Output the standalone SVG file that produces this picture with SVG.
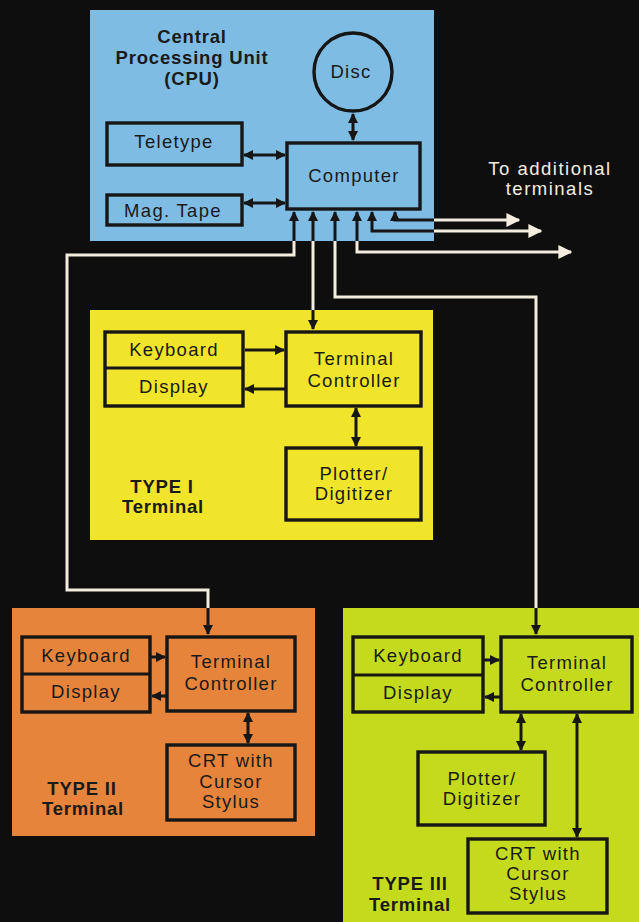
<svg xmlns="http://www.w3.org/2000/svg" width="639" height="922" viewBox="0 0 639 922">
<style>
.bx{fill:none;stroke:#161616;stroke-width:3.4}
.t{font-family:"Liberation Sans",Arial,sans-serif;font-size:18.5px;fill:#1a1a1a;text-anchor:middle;letter-spacing:1.3px}
.tb{font-family:"Liberation Sans",Arial,sans-serif;font-size:18.5px;font-weight:bold;fill:#1a1a1a;text-anchor:middle;letter-spacing:0.8px}
.tw{font-family:"Liberation Sans",Arial,sans-serif;font-size:18.5px;fill:#f3ede0;text-anchor:middle;letter-spacing:1.5px}
.ln{fill:none;stroke:#161616;stroke-width:3}
.wl{fill:none;stroke:#f3ede0;stroke-width:3}
</style>
<defs>
<marker id="ab" viewBox="0 0 10 10" refX="9" refY="5" markerWidth="10" markerHeight="10" markerUnits="userSpaceOnUse" orient="auto-start-reverse"><path d="M0,0 L10,5 L0,10 z" fill="#161616"/></marker>
<marker id="aw" viewBox="0 0 10 10" refX="9" refY="5" markerWidth="14" markerHeight="15" markerUnits="userSpaceOnUse" orient="auto-start-reverse"><path d="M0,0 L10,5 L0,10 z" fill="#f3ede0"/></marker>
</defs>
<rect x="0" y="0" width="639" height="922" fill="#0e0e0e"/>

<g id="cpu">
<rect x="90" y="10" width="344" height="231" fill="#7fbce4"/>
<text class="tb" x="192" y="43">Central</text>
<text class="tb" x="192" y="64">Processing Unit</text>
<text class="tb" x="192" y="85">(CPU)</text>
</g>
<g id="disc">
<circle class="bx" cx="353" cy="72" r="39"/>
<text class="t" x="351" y="78">Disc</text>
</g>
<g id="teletype">
<rect class="bx" x="107" y="123" width="135" height="42"/>
<text class="t" x="174" y="148">Teletype</text>
</g>
<g id="magtape">
<rect class="bx" x="107" y="195" width="135" height="30"/>
<text class="t" x="173" y="217">Mag. Tape</text>
</g>
<g id="computer">
<rect class="bx" x="287" y="143" width="133" height="66"/>
<text class="t" x="354" y="182">Computer</text>
</g>
<g id="additional">
<text class="tw" x="550" y="175">To additional</text>
<text class="tw" x="550" y="195">terminals</text>
</g>

<g id="type1">
<rect x="90" y="310" width="343" height="230" fill="#f0e52a"/>
<text class="tb" x="162" y="493">TYPE I</text>
<text class="tb" x="163" y="513">Terminal</text>
</g>
<g id="t1-kbd">
<rect class="bx" x="105" y="332" width="138" height="74"/>
<line class="ln" x1="105" y1="368" x2="243" y2="368"/>
<text class="t" x="174" y="356">Keyboard</text>
<text class="t" x="174" y="393">Display</text>
</g>
<g id="t1-ctrl">
<rect class="bx" x="286" y="332" width="135" height="74"/>
<text class="t" x="354" y="365">Terminal</text>
<text class="t" x="354" y="387">Controller</text>
</g>
<g id="t1-plot">
<rect class="bx" x="286" y="448" width="135" height="72"/>
<text class="t" x="354" y="480">Plotter/</text>
<text class="t" x="354" y="500">Digitizer</text>
</g>

<g id="type2">
<rect x="12" y="608" width="303" height="228" fill="#e5843a"/>
<text class="tb" x="82" y="795">TYPE II</text>
<text class="tb" x="83" y="815">Terminal</text>
</g>
<g id="t2-kbd">
<rect class="bx" x="22" y="637" width="128" height="75"/>
<line class="ln" x1="22" y1="674" x2="150" y2="674"/>
<text class="t" x="86" y="662">Keyboard</text>
<text class="t" x="86" y="698">Display</text>
</g>
<g id="t2-ctrl">
<rect class="bx" x="167" y="637" width="128" height="74"/>
<text class="t" x="231" y="668">Terminal</text>
<text class="t" x="231" y="690">Controller</text>
</g>
<g id="t2-crt">
<rect class="bx" x="167" y="745" width="128" height="75"/>
<text class="t" x="231" y="767">CRT with</text>
<text class="t" x="231" y="788">Cursor</text>
<text class="t" x="231" y="808">Stylus</text>
</g>

<g id="type3">
<rect x="343" y="608" width="296" height="314" fill="#c4da1c"/>
<text class="tb" x="410" y="890">TYPE III</text>
<text class="tb" x="410" y="911">Terminal</text>
</g>
<g id="t3-kbd">
<rect class="bx" x="353" y="637" width="130" height="75"/>
<line class="ln" x1="353" y1="675" x2="483" y2="675"/>
<text class="t" x="418" y="662">Keyboard</text>
<text class="t" x="418" y="699">Display</text>
</g>
<g id="t3-ctrl">
<rect class="bx" x="501" y="637" width="131" height="75"/>
<text class="t" x="567" y="669">Terminal</text>
<text class="t" x="567" y="691">Controller</text>
</g>
<g id="t3-plot">
<rect class="bx" x="418" y="752" width="127" height="73"/>
<text class="t" x="482" y="785">Plotter/</text>
<text class="t" x="482" y="805">Digitizer</text>
</g>
<g id="t3-crt">
<rect class="bx" x="468" y="839" width="139" height="74"/>
<text class="t" x="538" y="860">CRT with</text>
<text class="t" x="538" y="880">Cursor</text>
<text class="t" x="538" y="900">Stylus</text>
</g>

<g id="connectors">
<g id="bus-white">
<path class="wl" d="M294,241 V255 H67 V590 H208 V608"/>
<path class="wl" d="M313,241 V310"/>
<path class="wl" d="M335,241 V297 H536 V608"/>
<path class="wl" d="M357,241 V252 H571" marker-end="url(#aw)"/>
<path class="wl" d="M434,231 H541" marker-end="url(#aw)"/>
<path class="wl" d="M434,220 H519" marker-end="url(#aw)"/>
</g>
<g id="bus-black">
<path class="ln" d="M294,212 V241" marker-start="url(#ab)"/>
<path class="ln" d="M208,608 V634" marker-end="url(#ab)"/>
<path class="ln" d="M313,212 V241" marker-start="url(#ab)"/>
<path class="ln" d="M313,310 V329" marker-end="url(#ab)"/>
<path class="ln" d="M335,212 V241" marker-start="url(#ab)"/>
<path class="ln" d="M536,608 V634" marker-end="url(#ab)"/>
<path class="ln" d="M357,212 V241" marker-start="url(#ab)"/>
<path class="ln" d="M372,212 V231 H434" marker-start="url(#ab)"/>
<path class="ln" d="M395,212 V220 H434" marker-start="url(#ab)"/>
</g>
<path class="ln" d="M353,114 V140" marker-start="url(#ab)" marker-end="url(#ab)"/>
<path class="ln" d="M244,155 H285" marker-start="url(#ab)" marker-end="url(#ab)"/>
<path class="ln" d="M244,203 H285" marker-start="url(#ab)" marker-end="url(#ab)"/>
<path class="ln" d="M245,350 H284" marker-end="url(#ab)"/>
<path class="ln" d="M285,389 H245" marker-end="url(#ab)"/>
<path class="ln" d="M356,408 V446" marker-start="url(#ab)" marker-end="url(#ab)"/>
<path class="ln" d="M151,657 H165" marker-end="url(#ab)"/>
<path class="ln" d="M166,696 H152" marker-end="url(#ab)"/>
<path class="ln" d="M248,713 V743" marker-start="url(#ab)" marker-end="url(#ab)"/>
<path class="ln" d="M484,660 H499" marker-end="url(#ab)"/>
<path class="ln" d="M500,697 H485" marker-end="url(#ab)"/>
<path class="ln" d="M521,714 V750" marker-start="url(#ab)" marker-end="url(#ab)"/>
<path class="ln" d="M577,714 V837" marker-start="url(#ab)" marker-end="url(#ab)"/>
</g>
</svg>
